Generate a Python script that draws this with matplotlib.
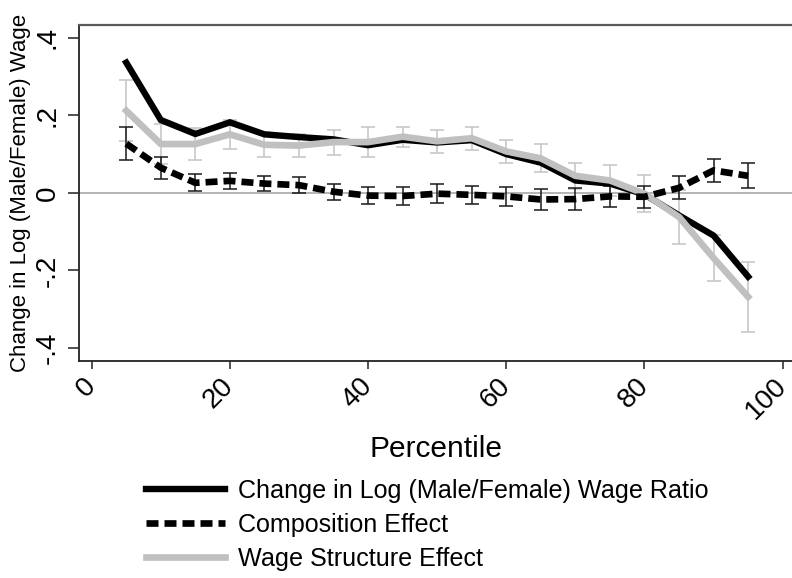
import matplotlib
matplotlib.use("Agg")
import matplotlib.pyplot as plt
import numpy as np

plt.rcParams['font.family'] = ['Liberation Sans', 'DejaVu Sans']

pct = [5, 10, 15, 20, 25, 30, 35, 40, 45, 50, 55, 60, 65, 70, 75, 80, 85, 90, 95]
total = [0.336, 0.188, 0.152, 0.182, 0.151, 0.144, 0.138, 0.123, 0.137, 0.130,
         0.136, 0.100, 0.078, 0.032, 0.024, -0.004, -0.058, -0.110, -0.216]
comp = [0.127, 0.065, 0.026, 0.031, 0.024, 0.020, 0.003, -0.007, -0.008, -0.002,
        -0.005, -0.009, -0.017, -0.016, -0.009, -0.010, 0.013, 0.058, 0.044]
comp_err = [0.043, 0.028, 0.022, 0.020, 0.020, 0.021, 0.021, 0.021, 0.022, 0.024,
            0.024, 0.025, 0.027, 0.028, 0.028, 0.029, 0.030, 0.030, 0.032]
wage = [0.212, 0.126, 0.126, 0.151, 0.124, 0.122, 0.131, 0.131, 0.145, 0.133,
        0.141, 0.107, 0.089, 0.044, 0.032, -0.002, -0.062, -0.168, -0.268]
wage_err = [0.078, 0.052, 0.042, 0.038, 0.032, 0.030, 0.032, 0.038, 0.026, 0.029,
            0.030, 0.030, 0.036, 0.034, 0.040, 0.047, 0.070, 0.059, 0.090]

xticks = [0, 20, 40, 60, 80, 100]
yticks = [-0.4, -0.2, 0, 0.2, 0.4]
yticklabels = ['-.4', '-.2', '0', '.2', '.4']
labels = ['Change in Log (Male/Female) Wage Ratio', 'Composition Effect',
          'Wage Structure Effect']

fig = plt.figure(figsize=(7.92, 5.78), dpi=100)
ax = fig.add_axes([79/792, 1 - 361/578, 1 - 79/792, (361 - 25)/578])

ax.axhline(0, color='#a8a8a8', lw=1.2, zorder=1)

ax.errorbar(pct, wage, yerr=wage_err, fmt='none', ecolor='#c4c4c4',
            elinewidth=1.1, capsize=5, capthick=1.1, zorder=2)
ax.errorbar(pct, comp, yerr=comp_err, fmt='none', ecolor='#1a1a1a',
            elinewidth=1.1, capsize=5, capthick=1.1, zorder=2)

l1, = ax.plot(pct, total, color='black', lw=4.6, zorder=3,
              solid_joinstyle='miter')
l2, = ax.plot(pct, comp, color='black', lw=4.8, ls=(0, (1.8, 0.9)), zorder=5,
              dash_capstyle='butt')
l3, = ax.plot(pct, wage, color='#c0c0c0', lw=4.8, zorder=4)

ax.set_xlim(-1.84, 101.35)
ax.set_ylim(-0.4335, 0.433)
ax.set_xticks(xticks)
ax.set_xticklabels([str(t) for t in xticks], rotation=45, ha='right',
                   va='center', rotation_mode='anchor', fontsize=20)
ax.set_yticks(yticks)
ax.set_yticklabels(yticklabels, rotation=90, va='center', fontsize=20)
ax.tick_params(axis='x', length=6, width=1.1, pad=9, colors='#222222',
               labelcolor='black')
ax.tick_params(axis='y', length=8, width=1.1, pad=5, colors='#222222',
               labelcolor='black')

for s in ['left', 'bottom']:
    ax.spines[s].set_color('#222222')
    ax.spines[s].set_linewidth(1.3)
ax.spines['right'].set_visible(False)
ax.spines['top'].set_color('#5a5a5a')
ax.spines['top'].set_linewidth(1.6)

ax.set_ylabel('Change in Log (Male/Female) Wage', fontsize=16, labelpad=3)
ax.set_xlabel('Percentile', fontsize=21.5, labelpad=8)

fig.legend([l1, l2, l3], labels, loc='upper left',
           bbox_to_anchor=(146/792, 1 - 479/578), frameon=False, fontsize=18.1,
           handlelength=3.15, handletextpad=0.52, labelspacing=0.4,
           borderaxespad=0, borderpad=0)

fig.savefig('out.png', dpi=100)
